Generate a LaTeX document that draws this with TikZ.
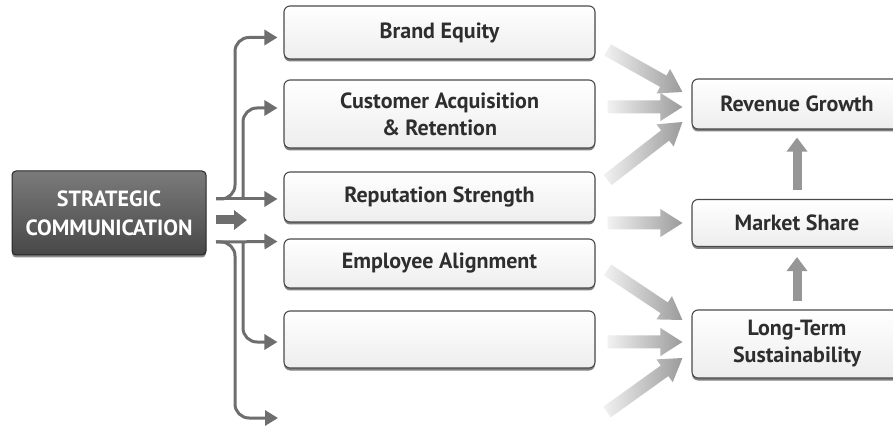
\documentclass[tikz,border=0pt]{standalone}
\usepackage{fontspec}
\setmainfont{PT Sans}
\usetikzlibrary{arrows.meta,fadings,shadows,calc}

\definecolor{linkgray}{HTML}{6E6E6E}
\definecolor{boxline}{HTML}{4A4A4A}
\definecolor{txt}{HTML}{2E2E2E}
\definecolor{flowgray}{HTML}{969696}

% fat arrows fade in from the left
\tikzfading[name=flowfade, left color=transparent!88, right color=transparent!5]

\tikzset{
  stage/.style={draw=boxline, line width=1.1pt, rounded corners=6pt,
    top color=white, bottom color=black!7, minimum width=311pt,
    text=txt, font=\bfseries\fontsize{22}{27}\selectfont, align=center, inner sep=0pt,
    drop shadow={shadow xshift=0pt, shadow yshift=-2.5pt, fill=black!50, opacity=1}},
  result/.style={stage, minimum width=210pt},
  core/.style={draw=black!85, line width=1pt, rounded corners=4pt,
    top color=black!52, bottom color=black!72, text=white,
    font=\bfseries\fontsize{22}{29}\selectfont, align=center, inner sep=0pt,
    minimum width=194pt, minimum height=84pt,
    drop shadow={shadow xshift=0pt, shadow yshift=-2.5pt, fill=black!45, opacity=1}},
  link/.style={draw=linkgray, line width=3pt, rounded corners=14pt,
    -{Triangle[width=15pt,length=13pt]}, shorten >=6pt},
  block/.style={draw=linkgray, line width=9pt, -{Triangle[width=19pt,length=13pt]}},
  flowshape/.style={fill=flowgray, path fading=flowfade},
  rise/.style={draw=flowgray, line width=9pt, -{Triangle[width=20pt,length=14pt]}}
}

% wide faded arrow from #1 to #2
\newcommand\flowarrow[2]{%
  \path[flowshape]
    let \p1=(#1), \p2=(#2), \p3=($(\p2)!22pt!(\p1)$) in
    ($(\p1)!6.5pt!90:(\p2)$) -- ($(\p3)!6.5pt!90:(\p2)$) -- ($(\p3)!14pt!90:(\p2)$) -- (\p2)
    -- ($(\p3)!14pt!-90:(\p2)$) -- ($(\p3)!6.5pt!-90:(\p2)$) -- ($(\p1)!6.5pt!-90:(\p2)$) -- cycle;}

\begin{document}
\begin{tikzpicture}[x=1pt,y=-1pt]
  \clip (0,0) rectangle (893,427);
  \fill[white] (0,0) rectangle (893,427);

  % source
  \node[core] (sc) at (109,213) {STRATEGIC\\COMMUNICATION};

  % middle column
  \node[stage, minimum height=53pt] (be) at (439.5,32.5) {Brand Equity};
  \node[stage, minimum height=68pt] (ca) at (439.5,114) {Customer Acquisition\\\& Retention};
  \node[stage, minimum height=50pt] (rs) at (439.5,197) {Reputation Strength};
  \node[stage, minimum height=49pt] (ea) at (439.5,263.5) {Employee Alignment};
  \node[stage, minimum height=57pt] (ex) at (439.5,339.5) {};

  % outcomes
  \node[result, minimum height=50pt] (rg) at (797,104) {Revenue Growth};
  \node[result, minimum height=47pt] (ms) at (797,223) {Market Share};
  \node[result, minimum height=68pt] (lt) at (797,344) {Long-Term\\Sustainability};

  \coordinate (top) at (216,199);
  \coordinate (topT) at (243,199);
  \coordinate (bot) at (216,242);
  \coordinate (botT) at (243,242);
  \coordinate (mid) at (216,220);
  \coordinate (midEnd) at (247,220);
  \coordinate (low) at (284,418);
  \coordinate (lowFlow) at (607,412);

  % branching connectors
  \begin{scope}
    \draw[link] (top) -- (top -| rs.west);
    \draw[link] (top) -- ++(19,0) |- ([yshift=-5pt]be.west);
    \draw[link] (topT) |- ([yshift=6pt]ca.west);
    \draw[link] (bot) -- ([yshift=-3pt]ea.north west);
    \draw[link] (botT) |- ([yshift=-2.5pt]ex.west);
    \draw[link] (bot) -- ++(19,0) |- (low);
    \draw[block] (mid) -- (midEnd);
  \end{scope}

  % contributions
  \flowarrow{[xshift=12pt,yshift=-17.5pt]be.east}{[xshift=-9pt,yshift=12pt]rg.west}
  \flowarrow{[xshift=12pt,yshift=7pt]ca.east}{[xshift=-9pt,yshift=-3pt]rg.west}
  \flowarrow{[xshift=12pt,yshift=17pt]rs.east}{[xshift=-9pt,yshift=-18pt]rg.west}
  \flowarrow{[xshift=12pt,yshift=-26pt]rs.east}{[xshift=-9pt]ms.west}
  \flowarrow{[xshift=12pt,yshift=-6.5pt]ea.east}{[xshift=-9pt,yshift=24pt]lt.west}
  \flowarrow{[xshift=12pt,yshift=-2.5pt]ex.east}{[xshift=-9pt,yshift=2pt]lt.west}
  \flowarrow{lowFlow}{[xshift=-9pt,yshift=-14pt]lt.west}

  \draw[rise, shorten <=9pt, shorten >=8pt] (ms.north) -- (rg.south);
  \draw[rise, shorten <=8pt, shorten >=10pt] (lt.north) -- (ms.south);
\end{tikzpicture}
\end{document}
